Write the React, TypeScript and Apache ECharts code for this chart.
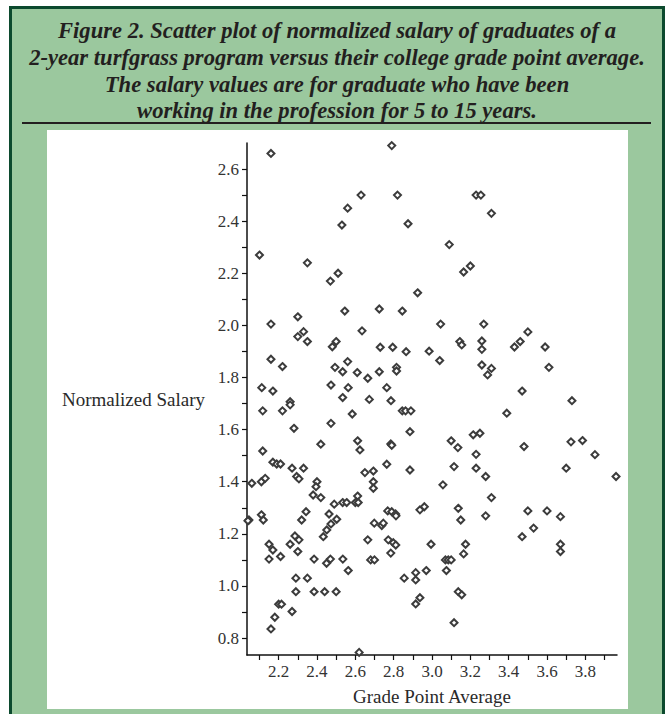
import React, { useEffect, useRef } from "react";
import * as echarts from "echarts";

const titleLines: string[] = [
  "Figure 2. Scatter plot of normalized salary of graduates of a",
  "2-year turfgrass program versus their college grade point average.",
  "The salary values are for graduate who have been",
  "working in the profession for 5 to 15 years.",
];

const xAxisName = "Grade Point Average";
const yAxisName = "Normalized Salary";

const xTickValues: number[] = [2.1, 2.2, 2.3, 2.4, 2.5, 2.6, 2.7, 2.8, 2.9, 3.0, 3.1, 3.2, 3.3, 3.4, 3.5, 3.6, 3.7, 3.8, 3.9];
const xLabelValues: number[] = [2.2, 2.4, 2.6, 2.8, 3.0, 3.2, 3.4, 3.6, 3.8];
const yTickValues: number[] = [0.8, 0.9, 1.0, 1.1, 1.2, 1.3, 1.4, 1.5, 1.6, 1.7, 1.8, 1.9, 2.0, 2.1, 2.2, 2.3, 2.4, 2.5, 2.6];
const yLabelValues: number[] = [0.8, 1.0, 1.2, 1.4, 1.6, 1.8, 2.0, 2.2, 2.4, 2.6];

// Grade point average (x) and normalized salary (y) of each graduate
const gpa: number[] = [
  2.16, 2.10, 2.79, 2.63, 2.82, 2.56, 2.53, 2.875, 3.09, 2.35,
  2.51, 2.47, 2.925, 2.725, 2.545, 2.845, 2.16, 2.30, 3.045, 2.30,
  2.33, 2.35, 2.635, 2.48, 2.50, 2.73, 2.795, 2.865, 2.985, 3.04,
  2.16, 2.22, 2.56, 2.815, 3.23, 3.255, 3.31, 3.165, 3.20, 3.27,
  3.145, 3.155, 3.26, 3.26, 3.43, 3.46, 3.50, 3.59, 3.26, 3.31,
  3.61,
  3.29, 3.47, 3.73, 3.39, 3.215, 3.25, 3.10, 3.135, 3.23, 3.48,
  3.725, 3.785, 3.85, 3.115, 3.23, 3.28, 3.70, 3.96, 3.057, 3.31,
  3.137, 3.15, 3.28, 3.50, 3.60, 3.67, 3.53, 3.47, 3.175, 3.165,
  3.67, 3.67,
  3.07, 3.085, 3.10, 3.075, 3.137, 3.155, 3.115,
  2.15, 2.17, 2.21, 2.30, 2.29, 2.29, 2.35, 2.385, 2.385, 2.44,
  2.45, 2.47, 2.50, 2.535, 2.563, 2.20, 2.215, 2.18, 2.16, 2.27,
  2.62, 2.68, 2.70, 2.785, 2.855, 2.915, 2.915, 2.97, 2.915, 2.937,
  2.112, 2.17, 2.117, 2.22, 2.26, 2.26, 2.28, 2.117, 2.17, 2.19,
  2.21, 2.27, 2.33, 2.06, 2.11, 2.13, 2.294, 2.306, 2.045, 2.04,
  2.11, 2.12, 2.32, 2.343, 2.15, 2.26, 2.285, 2.306, 2.40, 2.395,
  2.38, 2.42, 2.42, 2.473, 2.473, 2.494, 2.534, 2.534, 2.563, 2.61,
  2.584, 2.665, 2.673, 2.725, 2.764, 2.786, 2.815, 2.845, 2.862, 2.89,
  2.885, 2.885, 2.612, 2.624, 2.785, 2.79, 2.764, 2.65, 2.694, 2.694,
  2.694, 2.612, 2.60, 2.615, 2.49, 2.534, 2.555, 2.463, 2.503, 2.473,
  2.451, 2.433, 2.665, 2.699, 2.738, 2.746, 2.769, 2.79, 2.81, 2.812,
  2.772, 2.798, 2.811, 2.937, 2.96, 2.995,
];

const salary: number[] = [
  2.66, 2.27, 2.69, 2.50, 2.50, 2.45, 2.385, 2.39, 2.31, 2.24,
  2.20, 2.17, 2.125, 2.063, 2.055, 2.055, 2.005, 2.033, 2.005, 1.957,
  1.976, 1.938, 1.979, 1.918, 1.938, 1.916, 1.916, 1.899, 1.901, 1.865,
  1.870, 1.842, 1.861, 1.839, 2.50, 2.50, 2.43, 2.205, 2.228, 2.005,
  1.938, 1.925, 1.940, 1.908, 1.917, 1.938, 1.975, 1.917, 1.848, 1.835,
  1.839,
  1.810, 1.748, 1.711, 1.663, 1.580, 1.586, 1.557, 1.531, 1.505, 1.535,
  1.553, 1.558, 1.504, 1.458, 1.452, 1.420, 1.452, 1.420, 1.388, 1.339,
  1.298, 1.253, 1.269, 1.288, 1.288, 1.266, 1.222, 1.189, 1.160, 1.123,
  1.160, 1.132,
  1.10, 1.10, 1.10, 1.059, 0.978, 0.966, 0.859,
  1.103, 1.138, 1.113, 1.132, 1.030, 0.978, 1.030, 1.103, 0.978, 0.978,
  1.087, 1.103, 0.978, 1.103, 1.059, 0.93, 0.93, 0.880, 0.835, 0.902,
  0.745, 1.10, 1.10, 1.126, 1.030, 1.051, 1.023, 1.059, 0.931, 0.955,
  1.761, 1.748, 1.672, 1.672, 1.707, 1.695, 1.605, 1.518, 1.475, 1.468,
  1.468, 1.452, 1.452, 1.394, 1.400, 1.413, 1.420, 1.411, 1.253, 1.25,
  1.273, 1.253, 1.253, 1.285, 1.160, 1.160, 1.192, 1.177, 1.400, 1.381,
  1.349, 1.339, 1.544, 1.624, 1.771, 1.839, 1.822, 1.723, 1.761, 1.819,
  1.660, 1.797, 1.716, 1.822, 1.761, 1.711, 1.825, 1.672, 1.672, 1.672,
  1.592, 1.445, 1.557, 1.522, 1.545, 1.54, 1.467, 1.435, 1.441, 1.400,
  1.375, 1.345, 1.32, 1.32, 1.314, 1.320, 1.320, 1.276, 1.256, 1.238,
  1.215, 1.189, 1.177, 1.241, 1.232, 1.241, 1.288, 1.285, 1.276, 1.269,
  1.177, 1.166, 1.157, 1.292, 1.304, 1.160,
];

const SERIF = '"Liberation Serif", "Times New Roman", serif';

export default function App() {
  const ref = useRef<HTMLDivElement | null>(null);

  useEffect(() => {
    if (!ref.current) return;
    const chart = echarts.init(ref.current, null, { renderer: "svg" });
    const n = Math.min(gpa.length, salary.length);
    const points: number[][] = [];
    for (let i = 0; i < n; i++) points.push([gpa[i], salary[i]]);

    const titleY = [30, 57, 84, 110];

    const option: any = {
      animation: false,
      backgroundColor: "#ffffff",
      graphic: [
        {
          type: "rect",
          z: -10,
          silent: true,
          shape: { x: 10.5, y: 7.5, width: 653, height: 800 },
          style: { fill: "#9bc89e", stroke: "#0c4a2e", lineWidth: 3 },
        },
        {
          type: "rect",
          z: -9,
          silent: true,
          shape: { x: 47, y: 130, width: 581, height: 579 },
          style: { fill: "#ffffff" },
        },
        {
          type: "line",
          z: -9,
          silent: true,
          shape: { x1: 22, y1: 123, x2: 651, y2: 123 },
          style: { stroke: "#231f20", lineWidth: 2 },
        },
        ...titleLines.map((t, i) => ({
          type: "text",
          z: -8,
          silent: true,
          x: 337,
          y: titleY[i],
          style: {
            text: t,
            fontFamily: SERIF,
            fontSize: 22.6,
            fontStyle: "italic",
            fontWeight: "bold",
            fill: "#231f20",
            align: "center",
            verticalAlign: "middle",
          },
        })),
      ],
      grid: { left: 247, top: 143, width: 370, height: 512, containLabel: false },
      xAxis: {
        type: "value",
        min: 2.035,
        max: 3.965,
        name: xAxisName,
        nameLocation: "middle",
        nameGap: 32,
        nameTextStyle: { fontFamily: SERIF, fontSize: 19, color: "#2a2a2a" },
        axisLine: { show: true, onZero: false, lineStyle: { color: "#111", width: 1.5 } },
        axisTick: { show: true, inside: false, length: 5, customValues: xTickValues, lineStyle: { color: "#111", width: 1.2 } },
        axisLabel: {
          customValues: xLabelValues,
          margin: 8,
          fontFamily: SERIF,
          fontSize: 17,
          color: "#333",
          formatter: (v: number) => v.toFixed(1),
        },
        splitLine: { show: false },
      },
      yAxis: {
        type: "value",
        min: 0.735,
        max: 2.7,
        name: yAxisName,
        nameLocation: "middle",
        nameRotate: 0,
        nameGap: 42,
        nameTextStyle: { fontFamily: SERIF, fontSize: 19, color: "#2a2a2a" },
        axisLine: { show: true, onZero: false, lineStyle: { color: "#111", width: 1.5 } },
        axisTick: { show: true, inside: false, length: 5, customValues: yTickValues, lineStyle: { color: "#111", width: 1.2 } },
        axisLabel: {
          customValues: yLabelValues,
          margin: 8,
          fontFamily: SERIF,
          fontSize: 17,
          color: "#333",
          formatter: (v: number) => v.toFixed(1),
        },
        splitLine: { show: false },
      },
      series: [
        {
          type: "scatter",
          data: points,
          symbol: "diamond",
          symbolSize: 7,
          itemStyle: { color: "#ffffff", borderColor: "#3c3c3c", borderWidth: 2, opacity: 1 },
          emphasis: { disabled: true },
        },
      ],
    };
    chart.setOption(option);
    return () => chart.dispose();
  }, []);

  return (
    <div
      ref={ref}
      style={{ position: "absolute", left: 0, top: 0, width: 665, height: 714 }}
    />
  );
}
